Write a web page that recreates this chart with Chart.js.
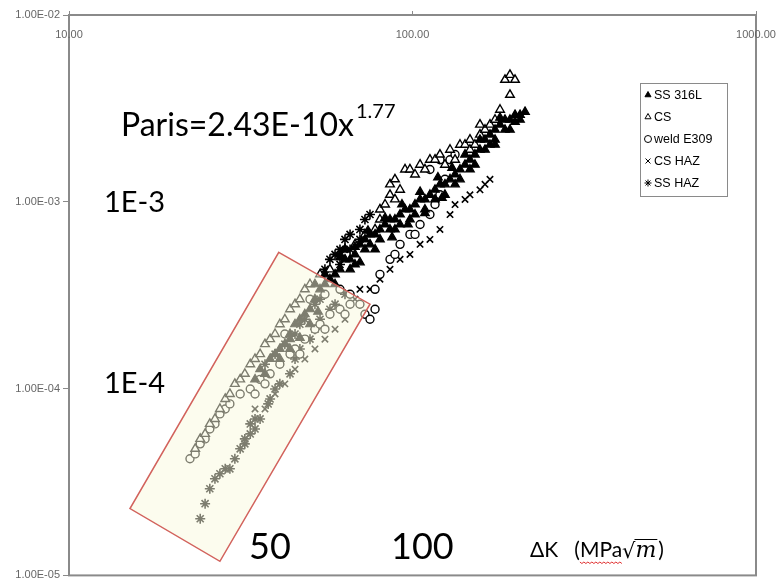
<!DOCTYPE html>
<html>
<head>
<meta charset="utf-8">
<script src="https://cdn.jsdelivr.net/npm/chart.js@4.4.1/dist/chart.umd.min.js"></script>
<style>
  html, body { margin: 0; padding: 0; background: #fff; }
</style>
</head>
<body>
<canvas id="parisChart" width="781" height="585"></canvas>
<script>
// ΔK (MPa√m) and da/dN
const ss316lK = [34.8, 36.0, 38.5, 39.8, 41.1, 42.5, 44.0, 44.0, 45.5, 47.0, 48.6, 50.3, 52.0, 53.8, 55.6, 57.5, 59.5, 61.5, 61.5, 63.6,
  65.8, 65.8, 68.0, 70.3, 72.7, 72.7, 75.2, 77.8, 80.4, 83.2, 86.0, 88.9, 88.9, 92.0, 95.1, 98.3, 98.3, 101.7, 105.2, 108.7,
  112.4, 116.3, 120.2, 124.3, 128.6, 133.0, 133.0, 137.5, 142.2, 147.0, 152.0, 157.2, 157.2, 162.6, 168.1, 173.9, 179.8, 179.8, 185.9, 192.2,
  198.8, 198.8, 205.6, 212.6,
  63.6, 68.0, 75.2, 80.4, 86.0, 92.0, 101.7, 108.7, 116.3, 124.3, 137.5, 147.0, 152.0, 168.1, 173.9, 185.9, 205.6, 59.5, 55.6, 52.0,
  61.5, 68.0, 74.2, 83.2, 93.2, 105.2, 118.6, 130.4, 142.2, 70.3, 77.8, 87.2, 97.0, 108.7, 121.8, 162.6, 173.9, 192.2,
  37.2, 41.1, 44.0, 47.0, 50.3, 53.1];
const ss316lRate = [1.12e-4, 1.27e-4, 1.44e-4, 1.53e-4, 1.63e-4, 1.73e-4, 1.84e-4, 1.96e-4, 2.21e-4, 2.35e-4, 2.50e-4, 2.66e-4, 3.01e-4, 3.40e-4, 3.62e-4, 3.85e-4, 4.09e-4, 4.35e-4, 5.23e-4, 4.92e-4,
  4.92e-4, 4.35e-4, 5.23e-4, 5.92e-4, 6.29e-4, 5.56e-4, 6.69e-4, 6.69e-4, 7.11e-4, 7.56e-4, 8.04e-4, 8.04e-4, 7.11e-4, 8.55e-4, 9.10e-4, 9.10e-4, 8.04e-4, 9.67e-4, 1.03e-3, 1.03e-3,
  1.09e-3, 1.16e-3, 1.24e-3, 1.24e-3, 1.32e-3, 1.40e-3, 1.24e-3, 1.49e-3, 1.58e-3, 1.68e-3, 1.79e-3, 1.90e-3, 2.15e-3, 2.15e-3, 2.29e-3, 2.43e-3, 2.59e-3, 2.82e-3, 2.75e-3, 2.75e-3,
  2.92e-3, 2.68e-3, 2.92e-3, 3.03e-3,
  5.56e-4, 4.62e-4, 5.92e-4, 6.29e-4, 7.11e-4, 7.56e-4, 8.55e-4, 9.10e-4, 1.03e-3, 1.09e-3, 1.32e-3, 1.49e-3, 1.58e-3, 2.02e-3, 2.15e-3, 2.43e-3, 2.75e-3, 3.62e-4, 4.09e-4, 3.62e-4,
  5.04e-4, 5.73e-4, 7.00e-4, 8.20e-4, 9.67e-4, 1.13e-3, 1.35e-3, 1.52e-3, 1.79e-3, 4.74e-4, 5.56e-4, 6.45e-4, 7.56e-4, 8.70e-4, 1.05e-3, 1.90e-3, 2.02e-3, 2.43e-3,
  1.20e-4, 1.44e-4, 1.63e-4, 1.87e-4, 2.21e-4, 2.58e-4];

const csK = [23.3, 24.1, 24.9, 25.7, 26.6, 27.5, 28.5, 29.4, 30.4, 31.5, 32.5, 33.7, 34.8, 36.0, 37.2, 38.5, 39.8, 41.1, 42.5, 44.0,
  45.5, 47.0, 48.6, 50.3, 53.8, 57.5, 63.6, 68.0, 72.7, 77.8, 80.4, 80.4, 83.2, 86.0, 86.0, 88.9, 95.1, 98.3, 105.2, 112.4,
  116.3, 120.2, 128.6, 137.5, 142.2, 147.0, 157.2, 162.6, 168.1, 173.9, 179.8, 192.2, 185.9, 192.2, 198.8,
  101.7, 108.7, 124.3, 133.0, 147.0, 152.0, 92.0, 88.9, 157.2];
const csRate = [4.76e-5, 5.38e-5, 5.72e-5, 6.47e-5, 6.88e-5, 7.78e-5, 8.80e-5, 9.36e-5, 1.06e-4, 1.12e-4, 1.20e-4, 1.35e-4, 1.44e-4, 1.53e-4, 1.73e-4, 1.84e-4, 1.96e-4, 2.21e-4, 2.35e-4, 2.66e-4,
  2.83e-4, 3.01e-4, 3.40e-4, 3.62e-4, 4.09e-4, 4.35e-4, 5.56e-4, 5.92e-4, 6.69e-4, 7.11e-4, 8.04e-4, 9.10e-4, 9.67e-4, 1.09e-3, 1.24e-3, 1.32e-3, 1.49e-3, 1.49e-3, 1.58e-3, 1.68e-3,
  1.68e-3, 1.79e-3, 1.90e-3, 2.02e-3, 2.02e-3, 2.15e-3, 2.29e-3, 2.43e-3, 2.59e-3, 2.75e-3, 3.11e-3, 3.74e-3, 4.50e-3, 4.78e-3, 4.50e-3,
  1.40e-3, 1.49e-3, 1.58e-3, 1.68e-3, 1.90e-3, 2.02e-3, 1.16e-3, 1.03e-3, 2.59e-3];

const weldK = [22.5, 23.3, 24.1, 24.9, 25.7, 26.6, 27.5, 28.5, 29.4, 31.5, 33.7, 36.0, 38.5, 41.1, 44.0, 45.5, 48.6, 52.0, 53.8, 57.5,
  61.5, 65.8, 70.3, 72.7, 75.2, 77.8, 77.8, 80.4, 86.0, 92.0, 98.3, 105.2, 112.4, 116.3, 120.2, 124.3, 112.4, 120.2, 128.6, 133.0,
  50.3, 55.6, 61.5, 65.8, 42.5, 34.8, 37.2, 47.0, 55.6, 63.6, 88.9, 101.7];
const weldRate = [4.21e-5, 4.47e-5, 5.06e-5, 5.38e-5, 6.08e-5, 6.47e-5, 7.32e-5, 7.78e-5, 8.28e-5, 9.36e-5, 9.95e-5, 1.12e-4, 1.20e-4, 1.35e-4, 1.53e-4, 1.63e-4, 1.84e-4, 2.08e-4, 2.21e-4, 2.50e-4,
  2.66e-4, 2.83e-4, 2.83e-4, 2.50e-4, 2.35e-4, 2.66e-4, 3.40e-4, 4.09e-4, 4.92e-4, 5.92e-4, 6.69e-4, 7.56e-4, 8.55e-4, 9.67e-4, 1.09e-3, 1.32e-3, 1.49e-3, 1.68e-3, 1.68e-3, 1.79e-3,
  3.01e-4, 3.20e-4, 3.40e-4, 3.20e-4, 1.96e-4, 9.36e-5, 1.06e-4, 1.53e-4, 2.08e-4, 2.50e-4, 5.23e-4, 6.69e-4];

const csHazK = [34.8, 37.2, 39.8, 42.5, 45.5, 48.6, 52.0, 55.6, 59.5, 63.6, 68.0, 70.3, 75.2, 80.4, 86.0, 92.0, 98.3, 105.2, 112.4, 120.2,
  128.6, 133.0, 142.2, 147.0, 157.2, 162.6, 168.1];
const csHazRate = [7.78e-5, 7.78e-5, 9.36e-5, 1.06e-4, 1.27e-4, 1.44e-4, 1.63e-4, 1.84e-4, 2.08e-4, 2.35e-4, 3.01e-4, 3.40e-4, 3.40e-4, 3.85e-4, 4.35e-4, 4.92e-4, 5.23e-4, 5.92e-4, 6.29e-4, 7.11e-4,
  8.55e-4, 9.67e-4, 1.03e-3, 1.09e-3, 1.16e-3, 1.24e-3, 1.32e-3];

const ssHazK = [24.1, 24.9, 25.7, 26.6, 27.5, 29.4, 30.4, 31.5, 32.5, 33.7, 34.8, 36.0, 38.0, 38.5, 39.8, 41.1, 44.0, 45.5, 47.0, 50.3,
  52.0, 53.8, 57.5, 59.5, 63.6, 37.2, 39.8, 42.5, 45.5, 47.0, 48.6, 52.0, 53.8, 55.6, 57.5, 59.5, 61.5, 63.6, 65.8, 70.3,
  72.7, 75.2, 61.5, 65.8, 70.3, 28.5, 33.7, 34.8, 32.5];
const ssHazRate = [2.01e-5, 2.42e-5, 2.91e-5, 3.29e-5, 3.50e-5, 3.72e-5, 4.21e-5, 4.76e-5, 5.38e-5, 5.72e-5, 6.08e-5, 6.88e-5, 8.28e-5, 8.80e-5, 9.95e-5, 1.06e-4, 1.20e-4, 1.44e-4, 1.63e-4, 1.84e-4,
  2.08e-4, 2.35e-4, 2.66e-4, 2.83e-4, 3.20e-4, 1.35e-4, 1.53e-4, 1.73e-4, 1.96e-4, 2.21e-4, 2.35e-4, 2.83e-4, 3.01e-4, 4.35e-4, 4.92e-4, 5.23e-4, 5.56e-4, 6.29e-4, 6.69e-4, 7.11e-4,
  8.04e-4, 8.55e-4, 4.62e-4, 5.56e-4, 6.29e-4, 3.72e-5, 6.47e-5, 6.88e-5, 5.06e-5];

const xTickValues = [10, 100, 1000];
const yTickValues = [1e-5, 1e-4, 1e-3, 1e-2];

// corners of the highlight box, in data units (ΔK, da/dN)
const boxK = [40.8, 75.2, 27.5, 15.05];
const boxRate = [5.36e-4, 2.83e-4, 1.19e-5, 2.28e-5];

function pts(xs, ys) {
  return xs.map((x, i) => ({ x: x, y: ys[i] }));
}

function sciLabel(v) {
  const e = Math.round(Math.log10(v));
  return '1.00E' + (e < 0 ? '-' : '+') + String(Math.abs(e)).padStart(2, '0');
}

const AXIS_GRAY = '#8a8a8a';

const notes = {
  id: 'notes',
  afterDatasetsDraw(chart) {
    const { ctx, scales: { x, y } } = chart;
    ctx.save();
    ctx.beginPath();
    boxK.forEach((k, i) => {
      const px = x.getPixelForValue(k), py = y.getPixelForValue(boxRate[i]);
      if (i) ctx.lineTo(px, py); else ctx.moveTo(px, py);
    });
    ctx.closePath();
    ctx.fillStyle = 'rgba(250,250,222,0.5)';
    ctx.fill();
    ctx.strokeStyle = '#d2625c';
    ctx.lineWidth = 1.5;
    ctx.stroke();
    ctx.restore();
  },
  afterDraw(chart) {
    const { ctx, chartArea: a, scales: { x } } = chart;
    ctx.save();
    // frame
    ctx.strokeStyle = AXIS_GRAY;
    ctx.lineWidth = 2;
    ctx.strokeRect(a.left, a.top, a.right - a.left, a.bottom - a.top);

    // x labels sit under the top border
    ctx.fillStyle = '#666';
    ctx.font = '11px "Liberation Sans"';
    ctx.textAlign = 'center';
    ctx.textBaseline = 'middle';
    xTickValues.forEach(v => ctx.fillText(v.toFixed(2), x.getPixelForValue(v), a.top + 20));

    // big annotations
    ctx.fillStyle = '#000';
    ctx.textAlign = 'left';
    ctx.textBaseline = 'alphabetic';
    ctx.font = '32px Lato';
    ctx.fillText('Paris=2.43E-10x', 121, 136);
    const pw = ctx.measureText('Paris=2.43E-10x').width;
    ctx.font = '20px Lato';
    ctx.fillText('1.77', 121 + pw + 2, 118);

    ctx.font = '29px Lato';
    ctx.fillText('1E-3', 104, 212);
    ctx.fillText('1E-4', 104, 393);
    ctx.font = '36px Lato';
    ctx.fillText('50', 249, 559);
    ctx.fillText('100', 391, 559);

    // ΔK (MPa√m)
    ctx.font = '21px Lato';
    let cx = 530;
    const part1 = 'ΔK   (';
    ctx.fillText(part1, cx, 557);
    cx += ctx.measureText(part1).width;
    const mpaStart = cx;
    ctx.fillText('MPa', cx, 557);
    cx += ctx.measureText('MPa').width;
    // red squiggle under MPa
    ctx.strokeStyle = '#e03030';
    ctx.lineWidth = 1;
    ctx.beginPath();
    for (let sx = mpaStart, k = 0; sx <= cx; sx += 2, k++) {
      const sy = 562 + (k % 2 ? 1.5 : 0);
      if (k) ctx.lineTo(sx, sy); else ctx.moveTo(sx, sy);
    }
    ctx.stroke();
    ctx.font = '21px "DejaVu Sans"';
    ctx.fillText('√', cx, 558);
    cx += ctx.measureText('√').width - 1;
    ctx.font = 'italic 22px "DejaVu Serif"';
    const mw = ctx.measureText('m').width;
    ctx.fillText('m', cx + 1, 557);
    ctx.strokeStyle = '#000';
    ctx.lineWidth = 1;
    ctx.beginPath();
    ctx.moveTo(cx, 539.5);
    ctx.lineTo(cx + mw + 2, 539.5);
    ctx.stroke();
    cx += mw + 3;
    ctx.font = '21px Lato';
    ctx.fillText(')', cx, 557);

    // legend box
    const lx = 640, ly = 83, lw = 87, lh = 113;
    ctx.fillStyle = '#fff';
    ctx.fillRect(lx, ly, lw, lh);
    ctx.strokeStyle = AXIS_GRAY;
    ctx.lineWidth = 1;
    ctx.strokeRect(lx + 0.5, ly + 0.5, lw, lh);
    ctx.font = '12.5px "Liberation Sans"';
    ctx.textBaseline = 'middle';
    chart.data.datasets.forEach((ds, i) => {
      const my = ly + 12 + i * 22;
      ctx.fillStyle = ds.pointBackgroundColor;
      ctx.strokeStyle = '#000';
      ctx.lineWidth = 1;
      Chart.helpers.drawPoint(ctx, { pointStyle: ds.pointStyle, radius: 3.5, borderWidth: 1, rotation: 0 }, lx + 8, my);
      ctx.fillStyle = '#000';
      ctx.fillText(ds.label, lx + 14, my + 1);
    });
    ctx.restore();
  }
};

const ctx = document.getElementById('parisChart').getContext('2d');
new Chart(ctx, {
  type: 'scatter',
  data: {
    datasets: [
      { label: 'SS 316L', data: pts(ss316lK, ss316lRate), pointStyle: 'triangle', pointRadius: 5, pointBackgroundColor: '#000', pointBorderColor: '#000', pointBorderWidth: 1.2 },
      { label: 'CS', data: pts(csK, csRate), pointStyle: 'triangle', pointRadius: 5, pointBackgroundColor: '#fff', pointBorderColor: '#000', pointBorderWidth: 1.4 },
      { label: 'weld E309', data: pts(weldK, weldRate), pointStyle: 'circle', pointRadius: 4, pointBackgroundColor: '#fff', pointBorderColor: '#000', pointBorderWidth: 1.4 },
      { label: 'CS HAZ', data: pts(csHazK, csHazRate), pointStyle: 'crossRot', pointRadius: 4.5, pointBackgroundColor: '#000', pointBorderColor: '#000', pointBorderWidth: 1.6 },
      { label: 'SS HAZ', data: pts(ssHazK, ssHazRate), pointStyle: 'star', pointRadius: 5, pointBackgroundColor: '#000', pointBorderColor: '#000', pointBorderWidth: 1.6 }
    ]
  },
  options: {
    responsive: false,
    animation: false,
    devicePixelRatio: 1,
    layout: { padding: { top: 0, right: 25, bottom: 8, left: 0 } },
    plugins: { legend: { display: false }, tooltip: { enabled: false } },
    scales: {
      x: {
        type: 'logarithmic',
        position: 'top',
        min: 10,
        max: 1000,
        afterBuildTicks: s => { s.ticks = xTickValues.map(v => ({ value: v })); },
        afterFit: s => { s.height = 15; },
        ticks: { display: false },
        grid: { drawOnChartArea: false, tickLength: 4, color: AXIS_GRAY },
        border: { color: AXIS_GRAY, width: 2 }
      },
      y: {
        type: 'logarithmic',
        min: 1e-5,
        max: 1e-2,
        afterBuildTicks: s => { s.ticks = yTickValues.map(v => ({ value: v })); },
        afterFit: s => { s.width = 69; },
        ticks: {
          callback: v => sciLabel(v),
          font: { family: 'Liberation Sans', size: 11 },
          color: '#666',
          padding: 3,
          autoSkip: false
        },
        grid: { drawOnChartArea: false, tickLength: 6, color: AXIS_GRAY },
        border: { color: AXIS_GRAY, width: 2 }
      }
    }
  },
  plugins: [notes]
});
</script>
</body>
</html>
